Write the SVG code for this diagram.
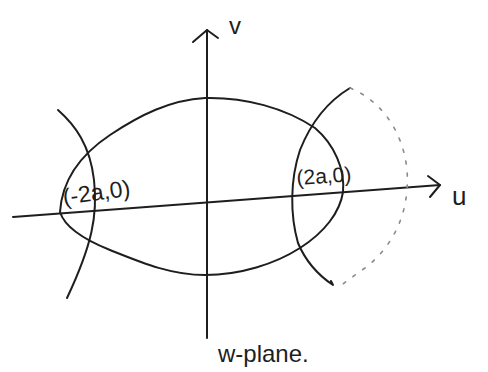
<svg xmlns="http://www.w3.org/2000/svg" width="488" height="372" viewBox="0 0 488 372">
<style>
.ink{fill:none;stroke:#1e1e1e;stroke-width:2;stroke-linecap:round;stroke-linejoin:round}
.dot{fill:none;stroke:#8a8a8a;stroke-width:1.6;stroke-dasharray:3 9;stroke-linecap:round}
.lbl{font-family:"Liberation Sans",Arial,sans-serif;fill:#1e1e1e}
</style>
<rect width="488" height="372" fill="#ffffff"/>
<g id="axes">
<path class="ink" d="M13,217 L440,185"/>
<path class="ink" d="M428,176 L440,185 L430,197"/>
<path class="ink" d="M207,338 L207,30"/>
<path class="ink" d="M193,42 L207,30 L218,38"/>
</g>
<g id="ellipse">
<path class="ink" d="M60,212 C62,180 80,155 110,135 C140,115 170,100 205,98 C245,97 285,108 315,128 C335,145 345,170 343,192 C340,212 325,232 300,248 C275,264 240,275 205,275 C170,275 140,262 110,250 C85,240 65,228 60,212 Z"/>
</g>
<g id="left-branch">
<path class="ink" d="M58,110 C75,125 90,145 94,180 C98,215 92,245 67,298"/>
</g>
<g id="right-branch">
<path class="ink" d="M350,88 C330,100 312,120 300,150 C290,180 290,215 298,243 C306,262 318,275 333,285 L331,281"/>
</g>
<g id="dotted-arc">
<path class="dot" d="M350,88 C380,100 403,130 407,170 C410,210 395,245 365,268 C355,275 348,280 343,284"/>
</g>
<g id="labels">
<text class="lbl" x="229" y="34" font-size="24">v</text>
<text class="lbl" x="452" y="205" font-size="26">u</text>
<text class="lbl" x="64" y="205" font-size="23" transform="rotate(-8 64 205)">(-2a,0)</text>
<text class="lbl" x="297" y="185" font-size="21" transform="rotate(-4 297 185)">(2a,0)</text>
<text class="lbl" x="218" y="362" font-size="24">w-plane.</text>
</g>
</svg>
